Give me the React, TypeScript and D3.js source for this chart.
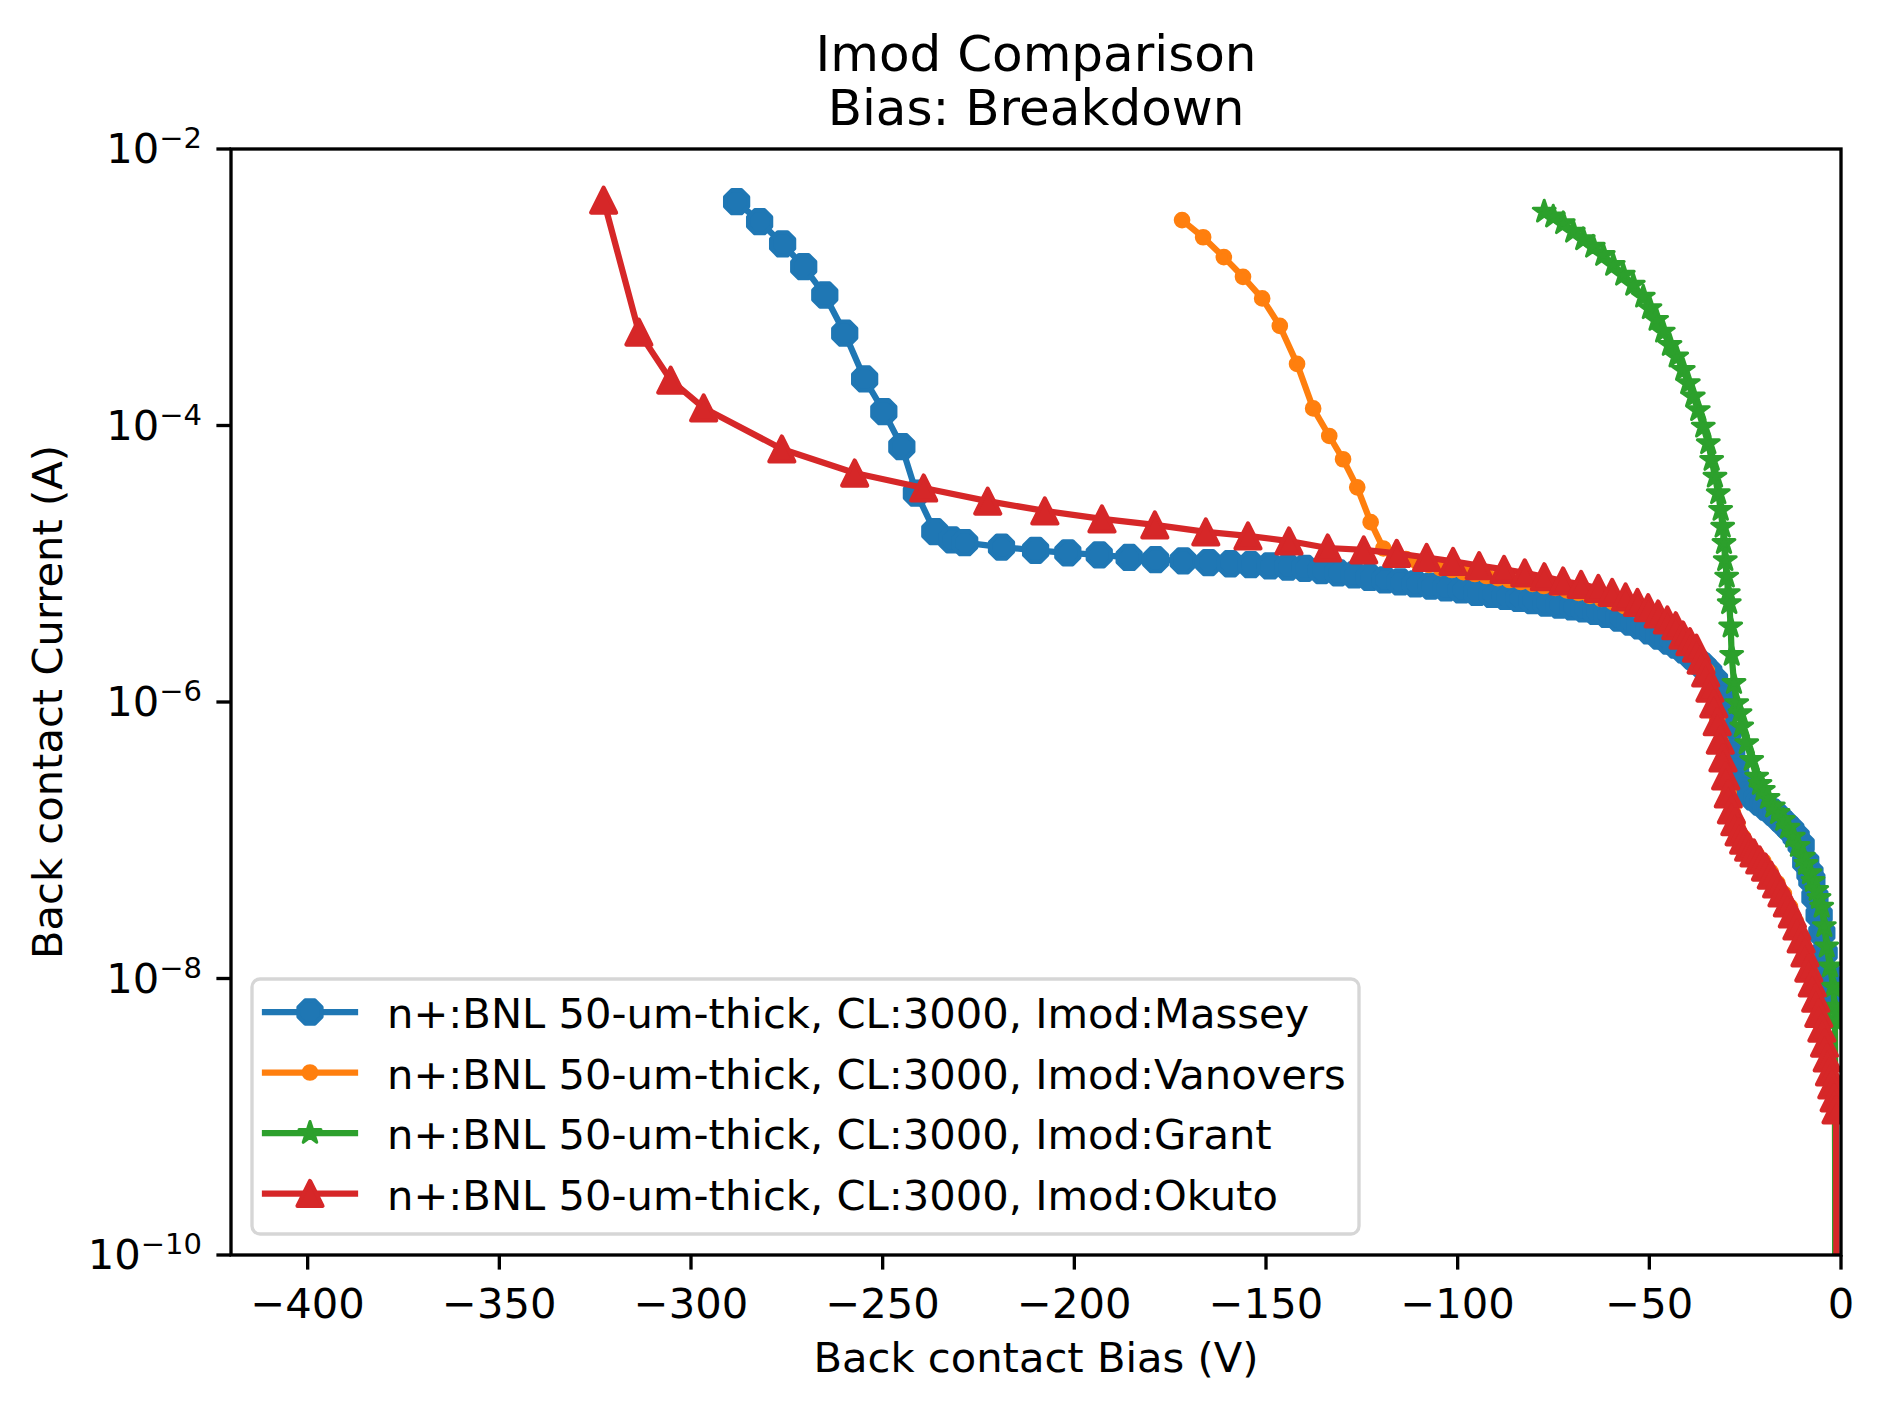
import React from "react";
import * as d3 from "d3";

// chart text
const titleLines = ["Imod Comparison", "Bias: Breakdown"];
const xLabel = "Back contact Bias (V)";
const yLabel = "Back contact Current (A)";
const xTicks = [-400, -350, -300, -250, -200, -150, -100, -50, 0];
const yTickExps = [-2, -4, -6, -8, -10];
const legendLabels = [
  "n+:BNL 50-um-thick, CL:3000, Imod:Massey",
  "n+:BNL 50-um-thick, CL:3000, Imod:Vanovers",
  "n+:BNL 50-um-thick, CL:3000, Imod:Grant",
  "n+:BNL 50-um-thick, CL:3000, Imod:Okuto",
];

// [bias (V), current (A)]
const massey: [number, number][] = [
  [-288.1, 4.16e-3], [-282.1, 2.98e-3], [-276.1, 2.06e-3], [-270.6, 1.41e-3], [-265.1, 8.79e-4],
  [-259.9, 4.65e-4], [-254.7, 2.17e-4], [-249.7, 1.26e-4], [-245.0, 7.03e-5], [-241.2, 3.24e-5],
  [-236.4, 1.71e-5], [-232.0, 1.49e-5], [-228.6, 1.42e-5], [-219.0, 1.32e-5], [-210.1, 1.25e-5],
  [-201.7, 1.2e-5], [-193.5, 1.16e-5], [-185.7, 1.11e-5], [-178.8, 1.07e-5], [-171.6, 1.05e-5],
  [-165.0, 1.02e-5], [-159.3, 1.0e-5], [-154.0, 9.85e-6], [-149.0, 9.65e-6], [-144.3, 9.45e-6],
  [-139.9, 9.27e-6], [-135.5, 8.93e-6], [-131.2, 8.6e-6], [-127, 8.3e-6], [-123, 7.96e-6],
  [-119, 7.63e-6], [-115, 7.38e-6], [-111, 7.14e-6], [-107, 6.9e-6], [-103, 6.68e-6],
  [-99, 6.46e-6], [-95, 6.2e-6], [-91, 6.0e-6], [-87.5, 5.8e-6], [-84, 5.61e-6],
  [-80.5, 5.42e-6], [-77, 5.2e-6], [-73.5, 5.03e-6], [-70, 4.87e-6], [-67, 4.71e-6],
  [-64, 4.52e-6], [-61, 4.3e-6], [-58, 4.05e-6], [-55, 3.79e-6], [-52.5, 3.55e-6],
  [-50, 3.27e-6], [-47.5, 3.0e-6], [-45, 2.76e-6], [-43, 2.58e-6], [-41, 2.38e-6],
  [-39, 2.15e-6], [-37.5, 1.98e-6], [-36, 1.82e-6], [-34.5, 1.65e-6], [-33, 1.44e-6],
  [-31.5, 1.12e-6], [-30.5, 8.5e-7], [-29.5, 6.1e-7], [-28.5, 4.35e-7], [-27.5, 3.33e-7],
  [-26.2, 2.64e-7], [-24.7, 2.27e-7], [-23, 2.06e-7], [-21.3, 1.89e-7], [-19.6, 1.74e-7],
  [-17.9, 1.6e-7], [-16.2, 1.45e-7], [-14.6, 1.31e-7], [-13.1, 1.19e-7], [-11.7, 1.06e-7],
  [-10.4, 9.25e-8], [-9.2, 6.97e-8], [-8.1, 5.8e-8], [-7.6, 5.16e-8], [-6.8, 3.89e-8],
  [-5.7, 2.88e-8], [-5.0, 2.13e-8], [-4.4, 1.53e-8], [-3.9, 1.11e-8], [-3.2, 8.97e-9],
  [-2.4, 7.85e-9], [-1.2, 7.35e-9], [-0.3, 7.0e-9],
];

const vanovers: [number, number][] = [
  [-171.9, 3.06e-3], [-166.4, 2.3e-3], [-161.0, 1.65e-3], [-156.0, 1.19e-3], [-151.0, 8.3e-4],
  [-146.4, 5.25e-4], [-141.9, 2.79e-4], [-137.7, 1.33e-4], [-133.5, 8.4e-5], [-129.9, 5.7e-5],
  [-126.2, 3.57e-5], [-122.7, 2.0e-5], [-119.4, 1.29e-5], [-116.5, 1.156e-5], [-113.5, 1.081e-5],
  [-110.5, 1.03e-5], [-107.5, 9.8e-6], [-104.5, 9.31e-6], [-101.5, 9.01e-6], [-98.5, 8.71e-6],
  [-95.5, 8.43e-6], [-92.5, 8.15e-6], [-89.5, 7.88e-6], [-86.5, 7.63e-6], [-83.5, 7.38e-6],
  [-80.5, 7.14e-6], [-77.5, 6.9e-6], [-74.5, 6.68e-6], [-71.5, 6.41e-6], [-68.5, 6.15e-6],
  [-65.5, 5.85e-6], [-62.5, 5.56e-6], [-59.5, 5.29e-6], [-56.5, 4.94e-6], [-54, 4.71e-6],
  [-51.5, 4.4e-6], [-49, 4.05e-6], [-46.5, 3.73e-6], [-44, 3.37e-6], [-42, 3.05e-6],
  [-40, 2.72e-6], [-38, 2.34e-6], [-36.5, 2.01e-6], [-35, 1.68e-6], [-33.5, 1.1e-6],
  [-32.3, 7.6e-7], [-31.3, 5.1e-7], [-30.3, 3.4e-7], [-29.3, 2.2e-7], [-28.2, 1.58e-7],
  [-27, 1.32e-7], [-25.5, 1.05e-7], [-23.8, 9.0e-8], [-22, 7.9e-8], [-20.2, 7.0e-8],
  [-18.4, 5.9e-8], [-16.6, 4.9e-8], [-14.9, 4.1e-8], [-13.3, 3.3e-8], [-11.8, 2.6e-8],
  [-10.4, 2.0e-8], [-9.1, 1.47e-8], [-7.9, 1.09e-8], [-6.8, 7.9e-9], [-5.8, 5.8e-9],
  [-4.9, 4.4e-9], [-4.0, 3.2e-9], [-3.2, 2.4e-9], [-2.4, 1.75e-9], [-1.6, 1.3e-9],
  [-1.1, 1e-12],
];

const grant: [number, number][] = [
  [-77.42, 3.52e-3], [-75.07, 3.24e-3], [-72.46, 2.9e-3], [-69.85, 2.52e-3], [-67.24, 2.22e-3],
  [-64.63, 1.96e-3], [-62.02, 1.71e-3], [-59.41, 1.45e-3], [-56.8, 1.23e-3], [-54.19, 1.04e-3],
  [-51.58, 8.54e-4], [-49.84, 7.04e-4], [-48.09, 5.8e-4], [-46.37, 4.77e-4], [-44.62, 3.82e-4],
  [-42.87, 3.15e-4], [-41.15, 2.52e-4], [-39.84, 2.02e-4], [-38.54, 1.62e-4], [-37.23, 1.29e-4],
  [-35.93, 9.8e-5], [-34.62, 7.43e-5], [-33.74, 5.63e-5], [-32.88, 4.26e-5], [-32.02, 3.23e-5],
  [-31.39, 2.45e-5], [-30.87, 1.85e-5], [-30.53, 1.41e-5], [-30.19, 1.06e-5], [-29.82, 8.06e-6],
  [-29.41, 6.11e-6], [-29.15, 5.18e-6], [-28.78, 3.51e-6], [-28.52, 2.19e-6], [-27.92, 1.37e-6],
  [-27.21, 9.79e-7], [-26.35, 8.28e-7], [-25.91, 6.63e-7], [-24.6, 5.02e-7], [-23.3, 3.8e-7],
  [-22.0, 2.88e-7], [-21.14, 2.55e-7], [-20.27, 2.31e-7], [-19.05, 2.02e-7], [-17.66, 1.75e-7],
  [-16.44, 1.57e-7], [-15.06, 1.4e-7], [-13.83, 1.23e-7], [-12.45, 1.06e-7], [-11.22, 9.08e-8],
  [-9.84, 7.6e-8], [-9.13, 6.73e-8], [-8.09, 5.76e-8], [-7.31, 5.07e-8], [-6.34, 4.36e-8],
  [-5.74, 3.82e-8], [-5.04, 3.3e-8], [-4.35, 2.39e-8], [-3.73, 1.7e-8], [-2.87, 1.22e-8],
  [-2.01, 8.72e-9], [-1.75, 6.25e-9], [-1.55, 5.0e-9], [-1.5, 1e-12],
];

const okuto: [number, number][] = [
  [-322.8, 4.27e-3], [-313.6, 4.74e-4], [-305.3, 2.13e-4], [-296.7, 1.34e-4], [-276.3, 6.76e-5],
  [-257.3, 4.53e-5], [-239.3, 3.53e-5], [-222.6, 2.84e-5], [-207.7, 2.41e-5], [-192.8, 2.11e-5],
  [-179.0, 1.91e-5], [-165.7, 1.7e-5], [-154.7, 1.59e-5], [-144.0, 1.46e-5], [-133.9, 1.3e-5],
  [-124.5, 1.26e-5], [-115.9, 1.19e-5], [-108.1, 1.11e-5], [-101.2, 1.04e-5], [-94.4, 9.7e-6],
  [-87.9, 9.1e-6], [-82.5, 8.6e-6], [-77.4, 8.05e-6], [-72.5, 7.5e-6], [-67.8, 7.1e-6],
  [-63.3, 6.64e-6], [-59.7, 6.21e-6], [-56.2, 5.75e-6], [-53.1, 5.26e-6], [-50.3, 4.81e-6],
  [-47.7, 4.33e-6], [-45.3, 3.92e-6], [-43.1, 3.56e-6], [-41.2, 3.05e-6], [-39.4, 2.73e-6],
  [-37.7, 2.45e-6], [-36.5, 2.01e-6], [-35.3, 1.62e-6], [-34.2, 1.26e-6], [-33.2, 9.7e-7],
  [-32.3, 7.2e-7], [-31.5, 5.3e-7], [-30.8, 3.94e-7], [-30.1, 2.92e-7], [-29.4, 2.16e-7],
  [-28.6, 1.66e-7], [-27.7, 1.36e-7], [-26.6, 1.15e-7], [-25.4, 1.0e-7], [-24.1, 8.9e-8],
  [-22.7, 8.1e-8], [-21.2, 7.2e-8], [-19.7, 6.4e-8], [-18.2, 5.6e-8], [-16.8, 4.83e-8],
  [-15.4, 4.16e-8], [-14.0, 3.52e-8], [-12.7, 2.93e-8], [-11.5, 2.4e-8], [-10.4, 1.93e-8],
  [-9.4, 1.53e-8], [-8.4, 1.19e-8], [-7.5, 9.3e-9], [-6.6, 7.2e-9], [-5.8, 5.6e-9],
  [-5.0, 4.38e-9], [-4.3, 3.41e-9], [-3.6, 2.66e-9], [-3.0, 2.11e-9], [-2.4, 1.7e-9],
  [-1.8, 1.37e-9], [-1.3, 1.12e-9], [-1.0, 1e-12],
];

const colors = ["#1f77b4", "#ff7f0e", "#2ca02c", "#d62728"];
const series = [massey, vanovers, grant, okuto];
const markerKinds = ["octagon", "point", "star", "triangle"];

// layout
const W = 1884;
const H = 1411;
const box = { left: 231, right: 1841, top: 149, bottom: 1255 };
const FONT = "DejaVu Sans, Verdana, sans-serif";
const fs = 41.67;
const lw = 6.25;
const ew = 4.17;
const tickLen = 14.6;

// marker shapes, centred on 0,0
const markerPath = (kind: string) => {
  if (kind === "octagon") {
    const r = 12.5;
    const pts = d3.range(8).map((k) => {
      const a = ((22.5 + 45 * k) * Math.PI) / 180;
      return [r * Math.cos(a), r * Math.sin(a)];
    });
    return "M" + pts.map((p) => p.join(",")).join("L") + "Z";
  }
  if (kind === "triangle") {
    const r = 12.5;
    return `M0,${-r}L${r},${r}L${-r},${r}Z`;
  }
  if (kind === "star") {
    const r = 11.5;
    const ri = r * 0.381966;
    const pts = d3.range(10).map((k) => {
      const a = -Math.PI / 2 + (k * Math.PI) / 5;
      const rr = k % 2 === 0 ? r : ri;
      return [rr * Math.cos(a), rr * Math.sin(a)];
    });
    return "M" + pts.map((p) => p.join(",")).join("L") + "Z";
  }
  // point
  const r = 6.25;
  return `M${r},0A${r},${r},0,1,1,${-r},0A${r},${r},0,1,1,${r},0Z`;
};

const markerStroke = (kind: string) => (kind === "star" ? 3 : ew);

export default function App() {
  const x = d3.scaleLinear().domain([-420, 0]).range([box.left, box.right]);
  const y = d3.scaleLog().domain([1e-10, 1e-2]).range([box.bottom, box.top]);

  const line = d3
    .line<[number, number]>()
    .x((d) => x(d[0]))
    .y((d) => y(d[1]));

  const cx = (box.left + box.right) / 2;
  const cy = (box.top + box.bottom) / 2;

  // legend placement
  const leg = { x: 252, y: 979, w: 1107, h: 255, row0: 1012, step: 60.5 };

  return (
    <svg
      width={W}
      height={H}
      viewBox={`0 0 ${W} ${H}`}
      style={{ position: "absolute", left: 0, top: 0, background: "#fff" }}
      fontFamily={FONT}
    >
      <defs>
        <clipPath id="plotArea">
          <rect
            x={box.left}
            y={box.top}
            width={box.right - box.left}
            height={box.bottom - box.top}
          />
        </clipPath>
      </defs>
      <rect x={0} y={0} width={W} height={H} fill="#fff" />

      {/* series */}
      <g clipPath="url(#plotArea)">
        {series.map((data, i) => (
          <g key={i}>
            <path
              d={line(data) || ""}
              fill="none"
              stroke={colors[i]}
              strokeWidth={lw}
              strokeLinejoin="round"
              strokeLinecap="square"
            />
            {data.map((d, j) => (
              <path
                key={j}
                d={markerPath(markerKinds[i])}
                transform={`translate(${x(d[0])},${y(d[1])})`}
                fill={colors[i]}
                stroke={colors[i]}
                strokeWidth={markerStroke(markerKinds[i])}
                strokeLinejoin="round"
              />
            ))}
          </g>
        ))}
      </g>

      {/* spines */}
      <rect
        x={box.left}
        y={box.top}
        width={box.right - box.left}
        height={box.bottom - box.top}
        fill="none"
        stroke="#000"
        strokeWidth={3.33}
      />

      {/* x axis */}
      {xTicks.map((t) => (
        <g key={t}>
          <line
            x1={x(t)}
            x2={x(t)}
            y1={box.bottom}
            y2={box.bottom + tickLen}
            stroke="#000"
            strokeWidth={3.33}
          />
          <text x={x(t)} y={1318} fontSize={fs} textAnchor="middle" fill="#000">
            {t < 0 ? `\u2212${Math.abs(t)}` : `${t}`}
          </text>
        </g>
      ))}
      <text x={cx} y={1372} fontSize={fs} textAnchor="middle" fill="#000">
        {xLabel}
      </text>

      {/* y axis */}
      {yTickExps.map((e) => {
        const ty = y(Math.pow(10, e));
        return (
          <g key={e}>
            <line
              x1={box.left - tickLen}
              x2={box.left}
              y1={ty}
              y2={ty}
              stroke="#000"
              strokeWidth={3.33}
            />
            <text x={202} y={ty + 14} fontSize={fs} textAnchor="end" fill="#000">
              10
              <tspan dy={-15} fontSize={29}>
                {`\u2212${Math.abs(e)}`}
              </tspan>
            </text>
          </g>
        );
      })}
      <text
        transform={`translate(62,${cy}) rotate(-90)`}
        fontSize={fs}
        textAnchor="middle"
        fill="#000"
      >
        {yLabel}
      </text>

      {/* title */}
      {titleLines.map((t, i) => (
        <text key={t} x={cx} y={71 + i * 54} fontSize={50} textAnchor="middle" fill="#000">
          {t}
        </text>
      ))}

      {/* legend */}
      <rect
        x={leg.x}
        y={leg.y}
        width={leg.w}
        height={leg.h}
        rx={8}
        fill="#fff"
        fillOpacity={0.8}
        stroke="#ccc"
        strokeOpacity={0.8}
        strokeWidth={3.33}
      />
      {legendLabels.map((lab, i) => {
        const ry = leg.row0 + i * leg.step;
        return (
          <g key={lab}>
            <line x1={265} x2={355} y1={ry} y2={ry} stroke={colors[i]} strokeWidth={lw} strokeLinecap="square" />
            <path
              d={markerPath(markerKinds[i])}
              transform={`translate(310,${ry})`}
              fill={colors[i]}
              stroke={colors[i]}
              strokeWidth={markerStroke(markerKinds[i])}
              strokeLinejoin="round"
            />
            <text x={387} y={ry + 16} fontSize={fs} fill="#000">
              {lab}
            </text>
          </g>
        );
      })}
    </svg>
  );
}
